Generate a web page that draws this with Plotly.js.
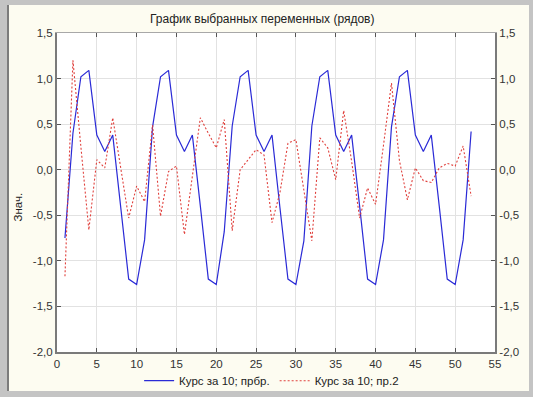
<!DOCTYPE html>
<html><head><meta charset="utf-8">
<script src="https://cdn.plot.ly/plotly-3.0.1.min.js"></script>
<style>
html,body{margin:0;padding:0;width:533px;height:397px;overflow:hidden;background:#c4c4c4;}
#frame{position:absolute;left:7px;top:5px;width:520px;height:386px;background:#fdfcf1;border-left:2px solid #7c7c7c;}
#chart{position:absolute;left:0;top:0;width:533px;height:397px;}
</style></head><body>
<div id="frame"></div><div id="chart"></div>
<script>
const xIndex = [1,2,3,4,5,6,7,8,9,10,11,12,13,14,15,16,17,18,19,20,21,22,23,24,25,26,
  27,28,29,30,31,32,33,34,35,36,37,38,39,40,41,42,43,44,45,46,47,48,49,50,51,52];
const seriesBlue = [-0.75,0.40,1.02,1.09,0.38,0.20,0.38,-0.40,-1.20,-1.26,
  -0.77,0.47,1.02,1.09,0.38,0.20,0.38,-0.40,-1.20,-1.26,
  -0.68,0.48,1.02,1.09,0.38,0.20,0.38,-0.42,-1.20,-1.26,
  -0.78,0.48,1.02,1.09,0.38,0.20,0.38,-0.40,-1.20,-1.26,
  -0.77,0.47,1.02,1.09,0.38,0.20,0.38,-0.40,-1.20,-1.26,
  -0.77,0.42];
const seriesRed = [-1.17,1.20,0.25,-0.66,0.11,0.02,0.57,0.02,-0.53,-0.18,
  -0.35,0.49,-0.51,-0.02,0.04,-0.71,-0.05,0.57,0.40,0.24,
  0.55,-0.67,0.00,0.11,0.22,0.16,-0.58,-0.25,0.29,0.33,
  -0.24,-0.78,0.35,0.24,-0.11,0.65,0.09,-0.53,-0.20,-0.38,
  0.27,0.95,0.10,-0.33,0.02,-0.12,-0.14,0.02,0.07,0.04,
  0.26,-0.29];
const nameBlue = 'Курс за 10; прбр.';
const nameRed = 'Курс за 10; пр.2';
const yTickVals = [-2,-1.5,-1,-0.5,0,0.5,1,1.5];
const yTickText = ['-2,0','-1,5','-1,0','-0,5','0,0','0,5','1,0','1,5'];
const xTickVals = [0,5,10,15,20,25,30,35,40,45,50,55];
const xTickText = ['0','5','10','15','20','25','30','35','40','45','50','55'];

const font = 'Liberation Sans, Arial, sans-serif';
const tickFont = {family: font, size: 11.5, color: '#333333'};

const traces = [
  {x: xIndex, y: seriesBlue, name: nameBlue, type: 'scatter', mode: 'lines',
   line: {color: '#2a2ad6', width: 1.2}, xaxis: 'x', yaxis: 'y'},
  {x: xIndex, y: seriesRed, name: nameRed, type: 'scatter', mode: 'lines',
   line: {color: '#e0403c', width: 1.1, dash: '2px,2px'}, xaxis: 'x2', yaxis: 'y2'}
];

const layout = {
  width: 533, height: 397,
  paper_bgcolor: 'rgba(0,0,0,0)', plot_bgcolor: '#ffffff',
  margin: {l: 57, r: 38, t: 33, b: 45, pad: 0, autoexpand: false},
  title: {text: 'График выбранных переменных (рядов)', font: {family: font, size: 12, color: '#222'},
          x: 0.492, xanchor: 'center', xref: 'container', y: 0.952, yanchor: 'middle', yref: 'container'},
  showlegend: true,
  legend: {orientation: 'h', x: 0.49, xanchor: 'center', y: -0.09, yanchor: 'middle',
           font: {family: font, size: 11.5, color: '#222'}, bgcolor: 'rgba(0,0,0,0)', itemwidth: 30},
  xaxis: {range: [0, 55], tickvals: xTickVals, ticktext: xTickText, tickfont: tickFont,
          showgrid: true, gridcolor: '#e2e2e2', gridwidth: 1, zeroline: false,
          showline: true, linecolor: '#7a7a7a', linewidth: 2,
          ticks: 'inside', ticklen: 4, tickcolor: '#555', fixedrange: true},
  xaxis2: {range: [0, 55], overlaying: 'x', side: 'top', anchor: 'y2', tickvals: xTickVals,
           showticklabels: false, showgrid: false, zeroline: false,
           showline: true, linecolor: '#a8a8a8', linewidth: 1,
           ticks: 'inside', ticklen: 4, tickcolor: '#555'},
  yaxis: {range: [-2, 1.5], tickvals: yTickVals, ticktext: yTickText, tickfont: tickFont,
          showgrid: true, gridcolor: '#e2e2e2', gridwidth: 1, zeroline: false,
          showline: true, linecolor: '#7a7a7a', linewidth: 2,
          ticks: 'inside', ticklen: 4, tickcolor: '#555'},
  yaxis2: {range: [-2, 1.5], overlaying: 'y', side: 'right', anchor: 'x2', tickvals: yTickVals, ticktext: yTickText,
           tickfont: tickFont, showgrid: false, zeroline: false,
           showline: true, linecolor: '#7a7a7a', linewidth: 2,
           ticks: 'inside', ticklen: 4, tickcolor: '#555'},
  annotations: [{text: 'Знач.', xref: 'paper', yref: 'paper', x: -0.09, y: 0.455,
                 textangle: -90, showarrow: false, xanchor: 'center', yanchor: 'middle',
                 font: {family: font, size: 11.5, color: '#222'}}]
};

Plotly.newPlot('chart', traces, layout, {displayModeBar: false, staticPlot: true});
</script>
</body></html>
